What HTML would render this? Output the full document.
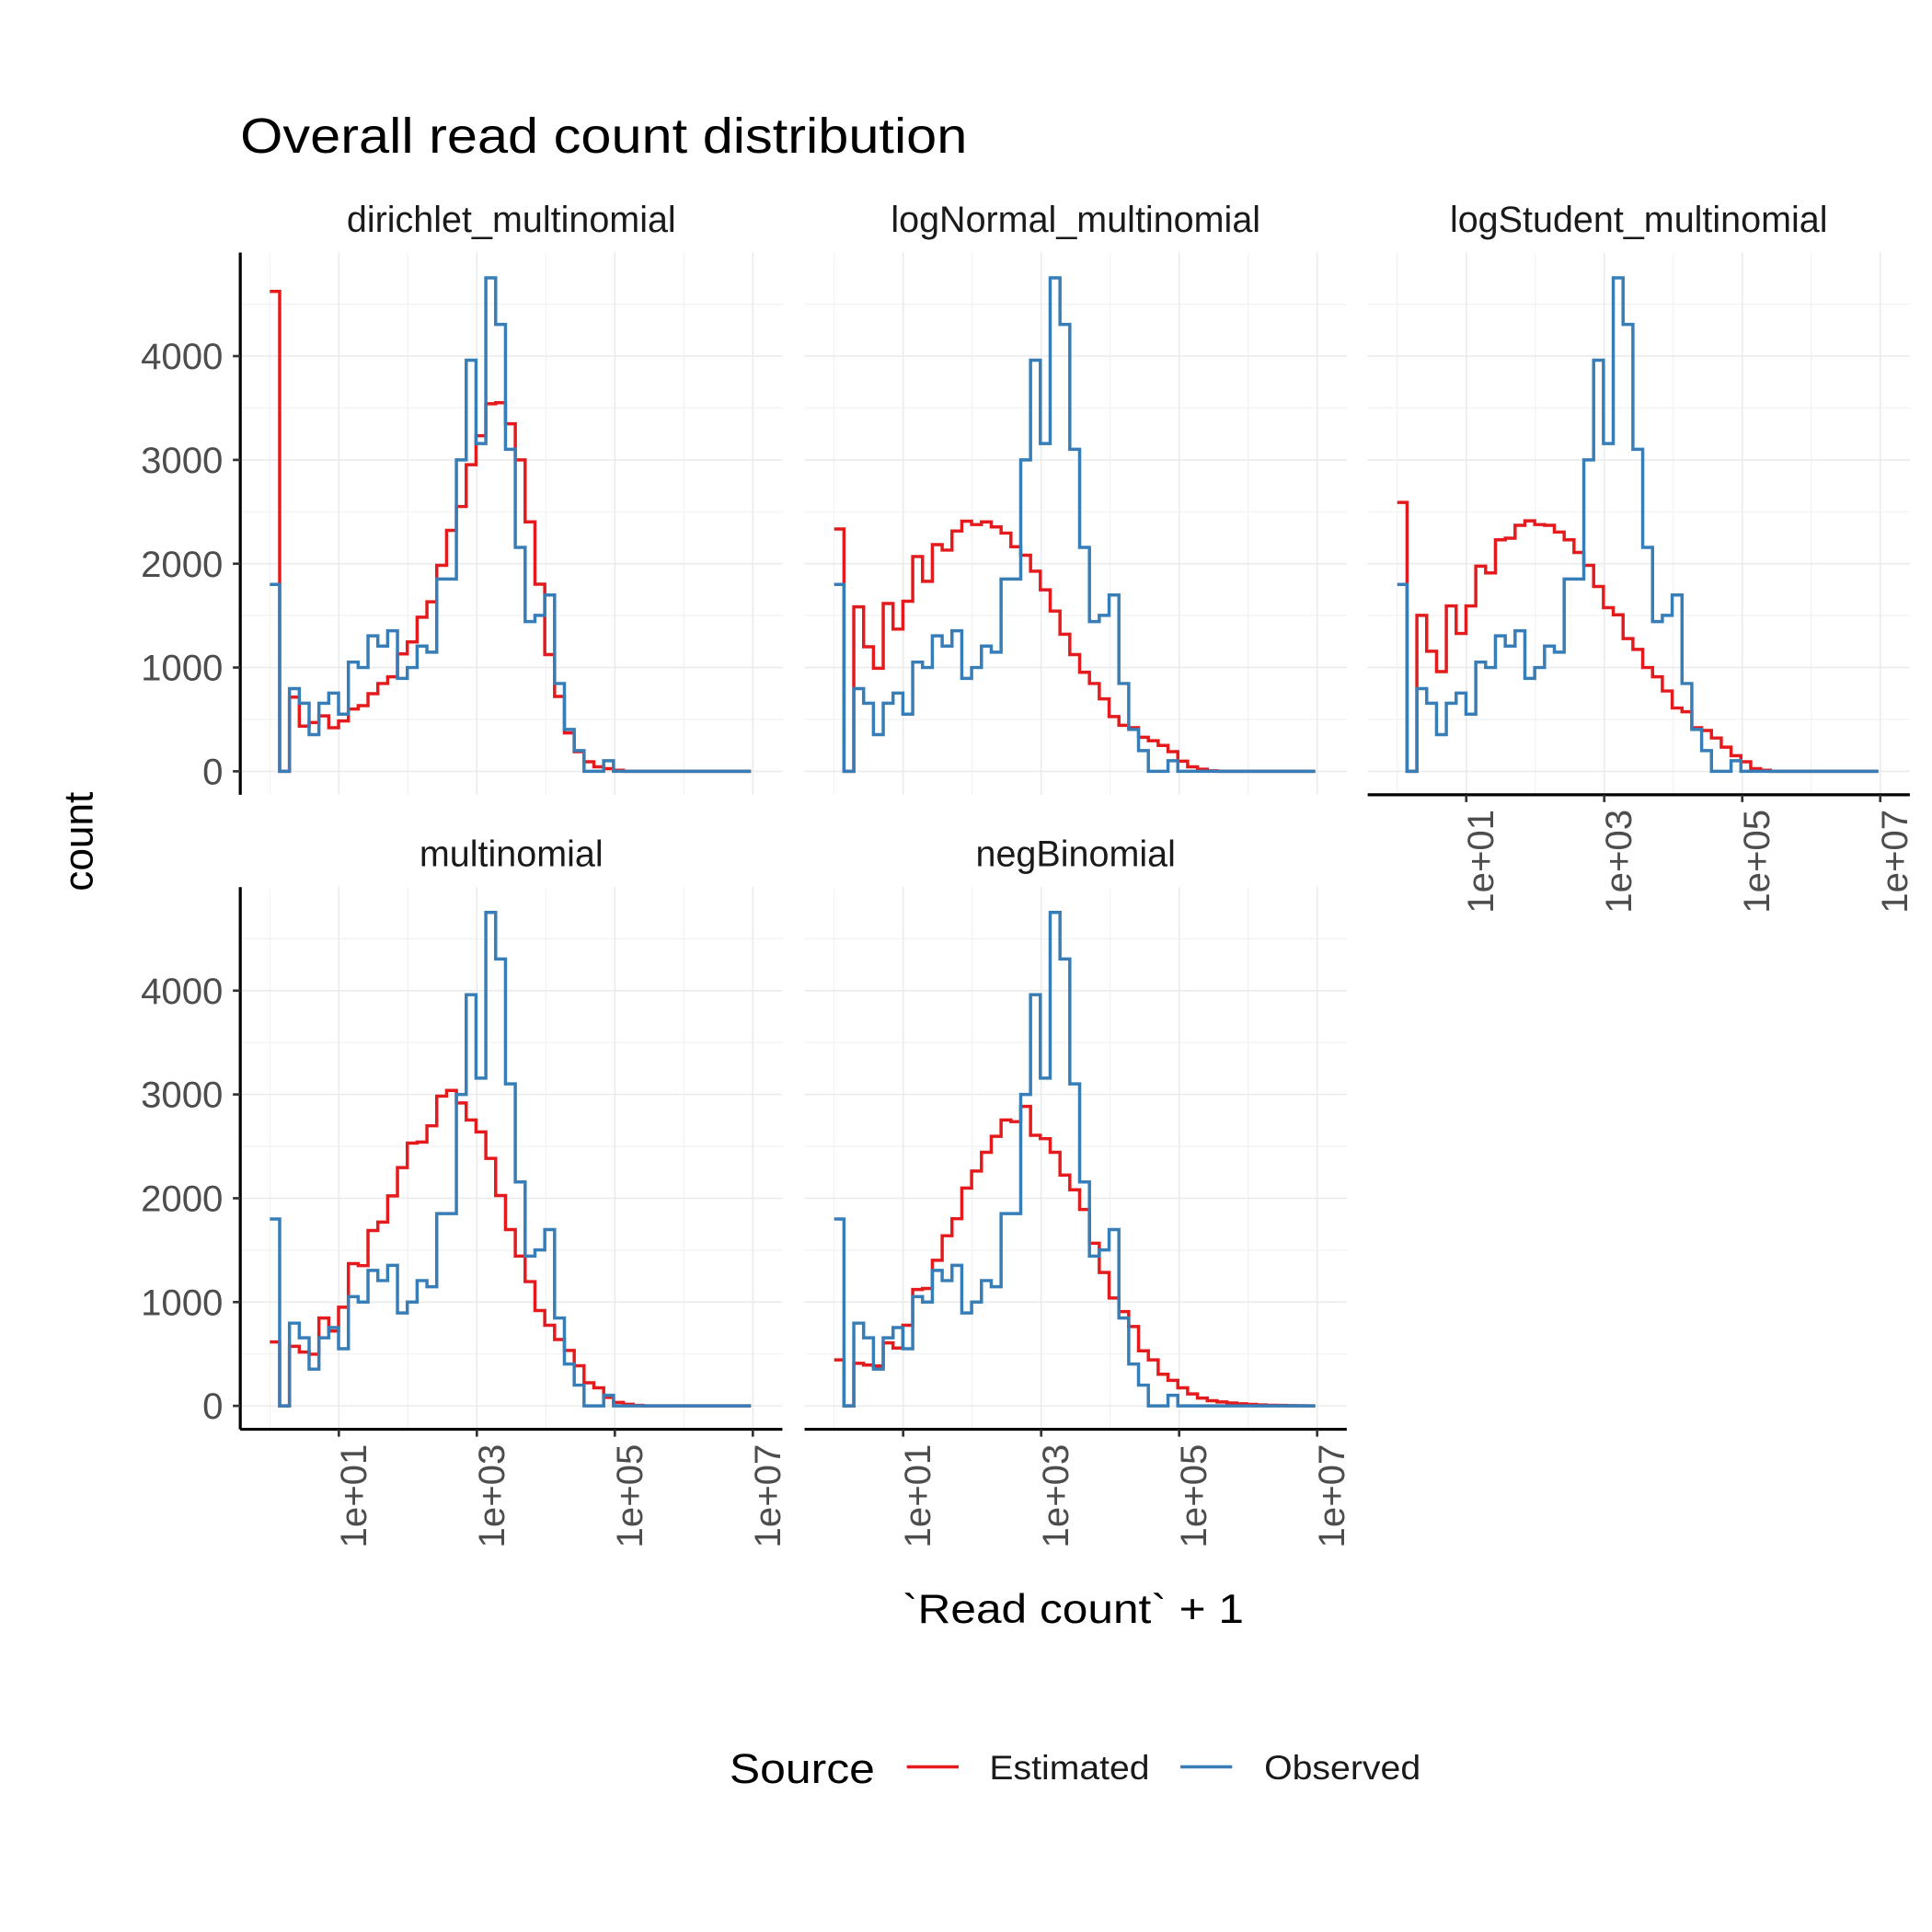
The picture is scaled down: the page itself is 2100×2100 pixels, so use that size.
<!DOCTYPE html>
<html><head><meta charset="utf-8"><style>
html,body{margin:0;padding:0;background:#fff;}
svg{display:block;font-family:"Liberation Sans",Arial,sans-serif;}
</style></head><body>
<svg id="chart" width="2100" height="2100" viewBox="0 0 1568 1568" xmlns="http://www.w3.org/2000/svg">
<rect width="1568" height="1568" fill="#fff"/>
<text x="195" y="124" font-size="40" fill="#000" textLength="590" lengthAdjust="spacingAndGlyphs">Overall read count distribution</text>
<text transform="translate(75,683) rotate(-90)" text-anchor="middle" font-size="33" fill="#000">count</text>
<text x="871" y="1317" text-anchor="middle" font-size="33" fill="#000" textLength="277" lengthAdjust="spacingAndGlyphs">`Read count` + 1</text>
<g>
<text x="592" y="1447" font-size="34" fill="#000" textLength="118" lengthAdjust="spacingAndGlyphs">Source</text>
<line x1="736" y1="1434" x2="778" y2="1434" stroke="#E41A1C" stroke-width="2.6"/>
<text x="803" y="1444" font-size="28" fill="#1a1a1a" textLength="130" lengthAdjust="spacingAndGlyphs">Estimated</text>
<line x1="958" y1="1434" x2="1000" y2="1434" stroke="#377EB8" stroke-width="2.6"/>
<text x="1026" y="1444" font-size="28" fill="#1a1a1a" textLength="127" lengthAdjust="spacingAndGlyphs">Observed</text>
</g>
<g id="panels"></g>
</svg>
<script>
const observed = [1800,0,797,656,354,656,754,551,1052,1000,1305,1207,1354,895,1000,1207,1148,1852,1852,3000,3961,3157,4754,4305,3102,2157,1443,1502,1698,846,403,200,0,0,102,0,0,0,0,0,0,0,0,0,0,0,0,0,0];
const estDirichlet = [4623,0,715,436,470,534,420,485,600,633,748,846,911,1131,1246,1485,1633,1984,2321,2551,2954,3233,3541,3551,3348,3000,2403,1803,1125,721,370,190,92,43,26,10,0,0,0,0,0,0,0,0,0,0,0,0,0];
const estLogNormal = [2334,0,1584,1200,993,1616,1370,1639,2069,1830,2184,2131,2315,2410,2377,2403,2354,2295,2164,2082,1928,1748,1544,1321,1125,954,846,698,528,443,420,328,295,249,190,98,43,20,5,0,0,0,0,0,0,0,0,0,0];
const estLogStudent = [2590,0,1502,1157,961,1593,1328,1593,1977,1911,2230,2246,2370,2413,2377,2370,2305,2230,2108,1984,1780,1577,1508,1279,1174,1000,911,774,610,574,420,393,321,233,151,92,26,10,0,0,0,0,0,0,0,0,0,0,0];
const estMultinomial = [616,0,574,518,498,846,721,951,1370,1351,1689,1770,2023,2295,2531,2541,2698,2984,3039,2918,2754,2639,2384,2026,1698,1443,1197,918,777,639,534,387,223,174,82,33,16,5,0,0,0,0,0,0,0,0,0,0,0];
const estNegBinomial = [443,0,410,393,384,607,557,777,1121,1131,1403,1639,1803,2098,2262,2443,2597,2754,2738,2885,2607,2574,2443,2223,2082,1892,1567,1285,1039,908,764,531,443,305,246,174,115,75,50,38,28,20,14,9,6,4,2,1,0];
const panelNames = ["dirichlet_multinomial","logNormal_multinomial","logStudent_multinomial","multinomial","negBinomial"];
const yTicks = [0,1000,2000,3000,4000];
const yMinor = [500,1500,2500,3500,4500];
const xTicks = [1,3,5,7];
const xMinor = [0,2,4,6];
const xTickLabels = ["1e+01","1e+03","1e+05","1e+07"];
const binWidth = 0.1423;

const estimates = [estDirichlet, estLogNormal, estLogStudent, estMultinomial, estNegBinomial];
const layout = [
  {x0:195,y0:205,showY:true,showX:false},
  {x0:653,y0:205,showY:false,showX:false},
  {x0:1110,y0:205,showY:false,showX:true},
  {x0:195,y0:720,showY:true,showX:true},
  {x0:653,y0:720,showY:false,showX:true}
];
const NS = "http://www.w3.org/2000/svg";
const W = 440, H = 440;
function mk(tag, attrs, parent){const e=document.createElementNS(NS,tag);for(const k in attrs)e.setAttribute(k,attrs[k]);parent.appendChild(e);return e;}
function xScale(p, v){return p.x0 + 24 + v*56;}
function yScale(p, c){return p.y0 + 421 - c*0.08425;}
function stepPath(p, vals){
  let d="";
  for(let i=0;i<vals.length;i++){
    const xa=xScale(p,i*binWidth), xb=xScale(p,Math.min(7,(i+1)*binWidth)), y=yScale(p,vals[i]);
    d += (i===0?"M":"L")+xa.toFixed(2)+","+y.toFixed(2)+"L"+xb.toFixed(2)+","+y.toFixed(2);
  }
  return d;
}
const root = document.getElementById("panels");
layout.forEach((p, idx) => {
  const g = mk("g",{},root);
  
  
  const strip = mk("text",{x:p.x0+W/2,y:p.y0-17,"text-anchor":"middle","font-size":"29.5","fill":"#1a1a1a"},g);
  
  
  strip.textContent = panelNames[idx];
  yMinor.forEach(v=>{const l=mk("line",{x1:p.x0,x2:p.x0+W,y1:yScale(p,v),y2:yScale(p,v),stroke:"#f2f2f2","stroke-width":"0.9"},g);
    
    });
  xMinor.forEach(v=>{const l=mk("line",{y1:p.y0,y2:p.y0+H,x1:xScale(p,v),x2:xScale(p,v),stroke:"#f2f2f2","stroke-width":"0.9"},g);
    
    });
  yTicks.forEach(v=>{const l=mk("line",{x1:p.x0,x2:p.x0+W,y1:yScale(p,v),y2:yScale(p,v),stroke:"#ebebeb","stroke-width":"1.2"},g);
    
    });
  xTicks.forEach(v=>{const l=mk("line",{y1:p.y0,y2:p.y0+H,x1:xScale(p,v),x2:xScale(p,v),stroke:"#ebebeb","stroke-width":"1.2"},g);
    
    });
  const est = mk("path",{d:stepPath(p,estimates[idx]),fill:"none",stroke:"#E41A1C","stroke-width":"2.6","stroke-linejoin":"miter"},g);
  
  
  const obs = mk("path",{d:stepPath(p,observed),fill:"none",stroke:"#377EB8","stroke-width":"2.6","stroke-linejoin":"miter"},g);
  
  
  if(p.showY){
    const ax = mk("line",{x1:p.x0,x2:p.x0,y1:p.y0,y2:p.y0+H,stroke:"#000","stroke-width":"2.4"},g);
    
    
    yTicks.forEach(v=>{
      const t = mk("line",{x1:p.x0-6,x2:p.x0,y1:yScale(p,v),y2:yScale(p,v),stroke:"#333","stroke-width":"2"},g);
      
      
      const lb = mk("text",{x:p.x0-14,y:yScale(p,v)+10.5,"text-anchor":"end","font-size":"30","fill":"#4d4d4d"},g);
      
      
      lb.textContent = String(v);
    });
  }
  if(p.showX){
    const ax = mk("line",{x1:p.x0,x2:p.x0+W,y1:p.y0+H,y2:p.y0+H,stroke:"#000","stroke-width":"2.4"},g);
    
    
    xTicks.forEach((v,i)=>{
      const x = xScale(p,v);
      const t = mk("line",{x1:x,x2:x,y1:p.y0+H,y2:p.y0+H+6,stroke:"#333","stroke-width":"2"},g);
      
      
      const lb = mk("text",{transform:"translate("+(x+22)+","+(p.y0+H+12)+") rotate(-90)","text-anchor":"end","font-size":"30","fill":"#4d4d4d"},g);
      
      
      lb.textContent = xTickLabels[i];
    });
  }
});
</script>
</body></html>
